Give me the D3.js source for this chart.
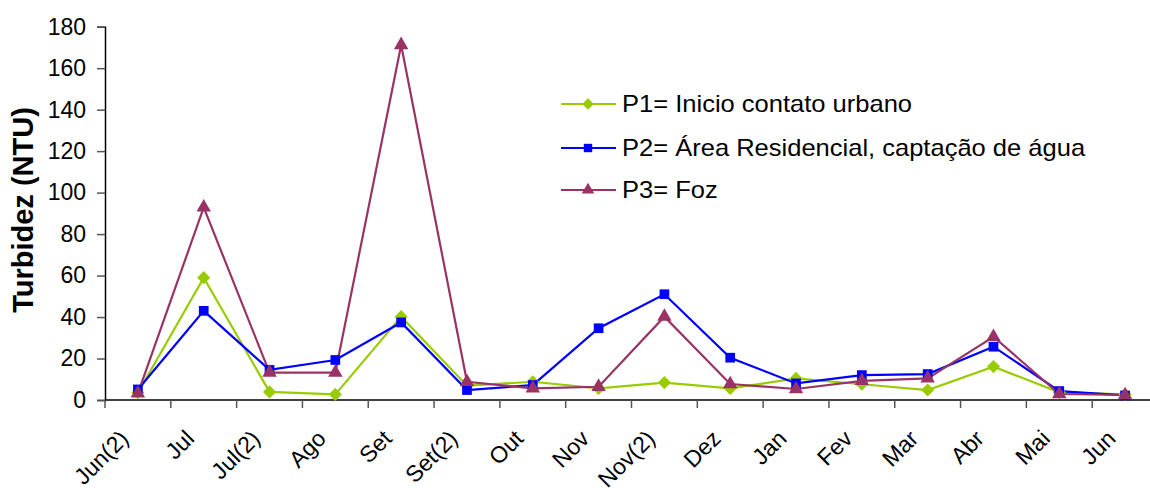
<!DOCTYPE html>
<html>
<head>
<meta charset="utf-8">
<script src="https://cdn.jsdelivr.net/npm/d3@7"></script>
<style>
  html, body { margin: 0; padding: 0; background: #fff; }
  svg { display: block; font-family: "Liberation Sans", Arial, sans-serif; }
</style>
</head>
<body>
<svg id="chart" width="1150" height="488"></svg>
<script>
const categories = ["Jun(2)", "Jul", "Jul(2)", "Ago", "Set", "Set(2)", "Out", "Nov", "Nov(2)", "Dez", "Jan", "Fev", "Mar", "Abr", "Mai", "Jun"];
const p1Values = [3.5, 59, 3.9, 2.7, 40.2, 6.9, 8.8, 5.6, 8.4, 5.6, 10.4, 7.6, 4.8, 16.1, 3.7, 2.7];
const p2Values = [5.1, 43, 14.5, 19.3, 37.4, 4.8, 7.2, 34.6, 51, 20.4, 8.0, 12.0, 12.5, 25.7, 4.3, 2.2];
const p3Values = [3.2, 92.9, 13.2, 13.2, 171.2, 8.8, 5.6, 6.4, 40.2, 7.7, 5.3, 9.2, 10.4, 30.5, 2.9, 2.4];
const seriesNames = ["P1= Inicio contato urbano", "P2= Área Residencial, captação de água", "P3= Foz"];
const yTicks = [0, 20, 40, 60, 80, 100, 120, 140, 160, 180];
const yTitle = "Turbidez (NTU)";

const colors = ["#99CC00", "#0000FF", "#993366"];
const symbols = [d3.symbolDiamond2, d3.symbolSquare2, d3.symbolTriangle2];
const symSizes = [110, 120, 150];

const series = [p1Values, p2Values, p3Values].map((vals, i) => ({
  name: seriesNames[i], values: vals, color: colors[i], symbol: symbols[i], size: symSizes[i]
}));

const svg = d3.select("#chart");
const plotLeft = 105, plotRight = 1158, plotTop = 26.7, plotBottom = 400;

const x = d3.scaleBand().domain(categories).range([plotLeft, plotRight]).paddingInner(0).paddingOuter(0);
const y = d3.scaleLinear().domain([0, 180]).range([plotBottom, plotTop]);
const cx = c => x(c) + x.bandwidth() / 2;

// Y axis
const yAxis = svg.append("g").attr("transform", `translate(${plotLeft},0)`)
  .call(d3.axisLeft(y).tickValues(yTicks).tickSize(8).tickPadding(11));
yAxis.select(".domain").attr("stroke", "#000").attr("stroke-width", 1.5);
yAxis.selectAll(".tick line").attr("stroke", "#555").attr("stroke-width", 1.5);
yAxis.selectAll(".tick text").attr("font-size", 23).attr("fill", "#000")
  .attr("font-family", "Liberation Sans, Arial, sans-serif");

// X axis: ticks at category boundaries
const xAxisG = svg.append("g").attr("transform", `translate(0,${plotBottom})`);
xAxisG.append("line").attr("x1", plotLeft).attr("x2", 1150).attr("y1", 0).attr("y2", 0)
  .attr("stroke", "#000").attr("stroke-width", 1.5);
xAxisG.selectAll("line.tk").data(categories).join("line").attr("class", "tk")
  .attr("x1", d => x(d)).attr("x2", d => x(d)).attr("y1", 0).attr("y2", 8)
  .attr("stroke", "#555").attr("stroke-width", 1.5);
xAxisG.selectAll("text.lbl").data(categories).join("text").attr("class", "lbl")
  .attr("transform", d => `translate(${cx(d) - 8},${40}) rotate(-45)`)
  .attr("text-anchor", "end")
  .attr("font-size", 23)
  .attr("fill", "#000")
  .text(d => d);

// Y title
svg.append("text")
  .attr("transform", `translate(33,210) rotate(-90)`)
  .attr("text-anchor", "middle")
  .attr("font-size", 29)
  .attr("font-weight", "bold")
  .attr("fill", "#000")
  .text(yTitle);

// Lines
const line = d3.line().x((d, i) => cx(categories[i])).y(d => y(d));
series.forEach(s => {
  svg.append("path").datum(s.values)
    .attr("fill", "none").attr("stroke", s.color).attr("stroke-width", 2.2)
    .attr("d", line);
});
// Markers
series.forEach(s => {
  svg.append("g").selectAll("path").data(s.values).join("path")
    .attr("transform", (d, i) => `translate(${cx(categories[i])},${y(d)})`)
    .attr("d", d3.symbol().type(s.symbol).size(s.size))
    .attr("fill", s.color);
});

// Legend
const legendY = [104, 148, 190];
const lg = svg.append("g");
series.forEach((s, i) => {
  const g = lg.append("g").attr("transform", `translate(0,${legendY[i]})`);
  g.append("line").attr("x1", 561).attr("x2", 616).attr("y1", 0).attr("y2", 0)
    .attr("stroke", s.color).attr("stroke-width", 2.2);
  g.append("path").attr("transform", "translate(588,0)")
    .attr("d", d3.symbol().type(s.symbol).size(s.size * 0.75)).attr("fill", s.color);
  g.append("text").attr("x", 622).attr("y", 8).attr("font-size", 23)
    .attr("fill", "#000")
    .attr("transform", "translate(622,0) scale(1.11,1) translate(-622,0)")
    .text(s.name);
});
</script>
</body>
</html>
